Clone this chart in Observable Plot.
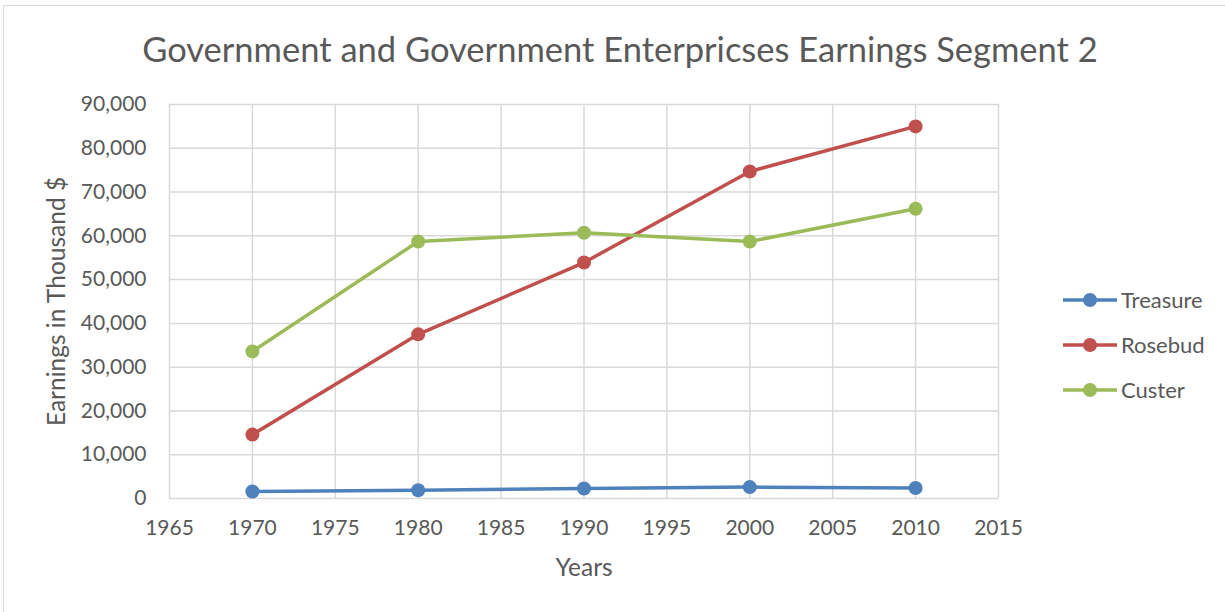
<!DOCTYPE html>
<html>
<head>
<meta charset="utf-8">
<script src="https://cdn.jsdelivr.net/npm/d3@7"></script>
<script src="https://cdn.jsdelivr.net/npm/@observablehq/plot@0.6"></script>
<style>
  body { margin: 0; background: #fff; font-family: Lato, "Open Sans", sans-serif; }
  #wrap { position: relative; width: 1225px; height: 612px; overflow: hidden; }
  #frame { position: absolute; left: 3px; top: 5px; width: 1240px; height: 640px; border: 1.5px solid #d9d9d9; box-sizing: border-box; }
  #title { position: absolute; top: 28px; left: 0; width: 1240px; text-align: center; font-size: 34.5px; color: #595959; }
  #chart { position: absolute; left: 0; top: 80px; }
  #legend { position: absolute; left: 1063px; top: 277px; }
  .item { display: flex; align-items: center; height: 45px; font-size: 22px; color: #595959; }
  .item svg { margin-right: 4px; }
</style>
</head>
<body>
<div id="wrap">
  <div id="frame"></div>
  <div id="title">Government and Government Enterpricses Earnings Segment 2</div>
  <div id="chart"></div>
  <div id="legend"></div>
</div>
<script>
const years = [1970, 1980, 1990, 2000, 2010];
const seriesNames = ["Treasure", "Rosebud", "Custer"];
const treasure = [1600, 1900, 2300, 2600, 2400];
const rosebud = [14600, 37500, 53900, 74700, 85000];
const custer = [33600, 58700, 60700, 58700, 66200];
const colors = ["#4f81bd", "#c0504d", "#9bbb59"];
const xTicks = [1965, 1970, 1975, 1980, 1985, 1990, 1995, 2000, 2005, 2010, 2015];
const yTicks = [0, 10000, 20000, 30000, 40000, 50000, 60000, 70000, 80000, 90000];

const values = [treasure, rosebud, custer];
const data = [];
seriesNames.forEach((s, i) => years.forEach((y, j) => data.push({series: s, year: y, value: values[i][j]})));

const fmt = d3.format(",");
const plot = Plot.plot({
  width: 1225,
  height: 532,
  marginLeft: 169,
  marginRight: 227,
  marginTop: 24,
  marginBottom: 114,
  style: { fontFamily: "Lato, 'Open Sans', sans-serif", color: "#595959", background: "transparent" },
  x: { domain: [1965, 2015], ticks: xTicks, tickFormat: d => String(d), label: null },
  y: { domain: [0, 90000], ticks: yTicks, tickFormat: fmt, label: null },
  color: { domain: seriesNames, range: colors },
  marks: [
    Plot.gridX(xTicks, { stroke: "#d9d9d9", strokeOpacity: 1, strokeWidth: 1.5 }),
    Plot.gridY(yTicks, { stroke: "#d9d9d9", strokeOpacity: 1, strokeWidth: 1.5 }),
    Plot.axisX({ ticks: xTicks, tickSize: 0, tickPadding: 22, fontSize: 21, tickFormat: d => String(d),
      label: "Years", labelAnchor: "center", labelArrow: "none", labelOffset: 77 }),
    Plot.axisY({ ticks: yTicks, tickSize: 0, tickPadding: 23, fontSize: 21, tickFormat: fmt,
      label: "Earnings in Thousand $", labelAnchor: "center", labelArrow: "none", labelOffset: 122 }),
    Plot.line(data, { x: "year", y: "value", z: "series", stroke: "series", strokeWidth: 3.5 }),
    Plot.dot(data, { x: "year", y: "value", fill: "series", r: 7 })
  ]
});
plot.querySelectorAll("[aria-label='x-axis label'] text, [aria-label='y-axis label'] text").forEach(t => t.setAttribute("font-size", "24.5"));
document.getElementById("chart").appendChild(plot);

const legend = document.getElementById("legend");
seriesNames.forEach((s, i) => {
  const div = document.createElement("div");
  div.className = "item";
  div.innerHTML = `<svg width="54" height="16"><line x1="0" y1="8" x2="54" y2="8" stroke="${colors[i]}" stroke-width="3.5"/><circle cx="27" cy="8" r="7" fill="${colors[i]}"/></svg><span>${s}</span>`;
  legend.appendChild(div);
});
</script>
</body>
</html>
